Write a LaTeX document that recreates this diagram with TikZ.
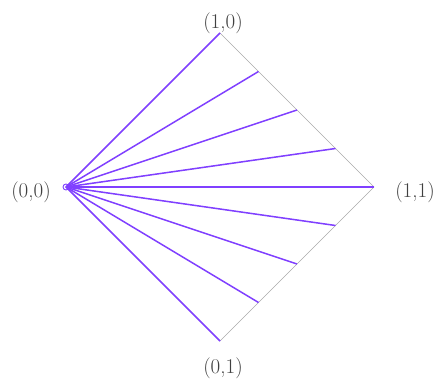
\documentclass[tikz,border=0pt]{standalone}
\usetikzlibrary{calc}
\definecolor{fanpurple}{RGB}{128,64,255}
\definecolor{edgegray}{RGB}{170,170,170}
\tikzset{
  edge/.style={draw=edgegray, line width=0.6pt},
  ray/.style={draw=fanpurple, line width=1.5pt},
  lbl/.style={inner sep=0pt, font=\fontsize{21}{24}\selectfont, text=black!75}
}
\begin{document}
\begin{tikzpicture}[x=1pt,y=1pt]
\useasboundingbox (0,0) rectangle (439,383);
\coordinate (L) at (66,196);
\coordinate (T) at (220,350);
\coordinate (R) at (374,196);
\coordinate (B) at (220,42);
\draw[edge] (L) -- (T) -- (R) -- (B) -- cycle;
\foreach \f in {0,0.25,0.5,0.75}{
  \coordinate (u) at ($(T)!\f!(R)$);
  \coordinate (d) at ($(B)!\f!(R)$);
  \draw[ray] (L) -- (u);
  \draw[ray] (L) -- (d);
}
\draw[ray] (L) -- (R);
\node[draw=fanpurple, line width=0.9pt, circle, minimum size=6pt, inner sep=0pt] (o) at (L) {};
\node[lbl] (l00) at (31,191) {(0,0)};
\node[lbl] (l10) at (223,360) {(1,0)};
\node[lbl] (l11) at (415,191) {(1,1)};
\node[lbl] (l01) at (223,15) {(0,1)};
\end{tikzpicture}
\end{document}
